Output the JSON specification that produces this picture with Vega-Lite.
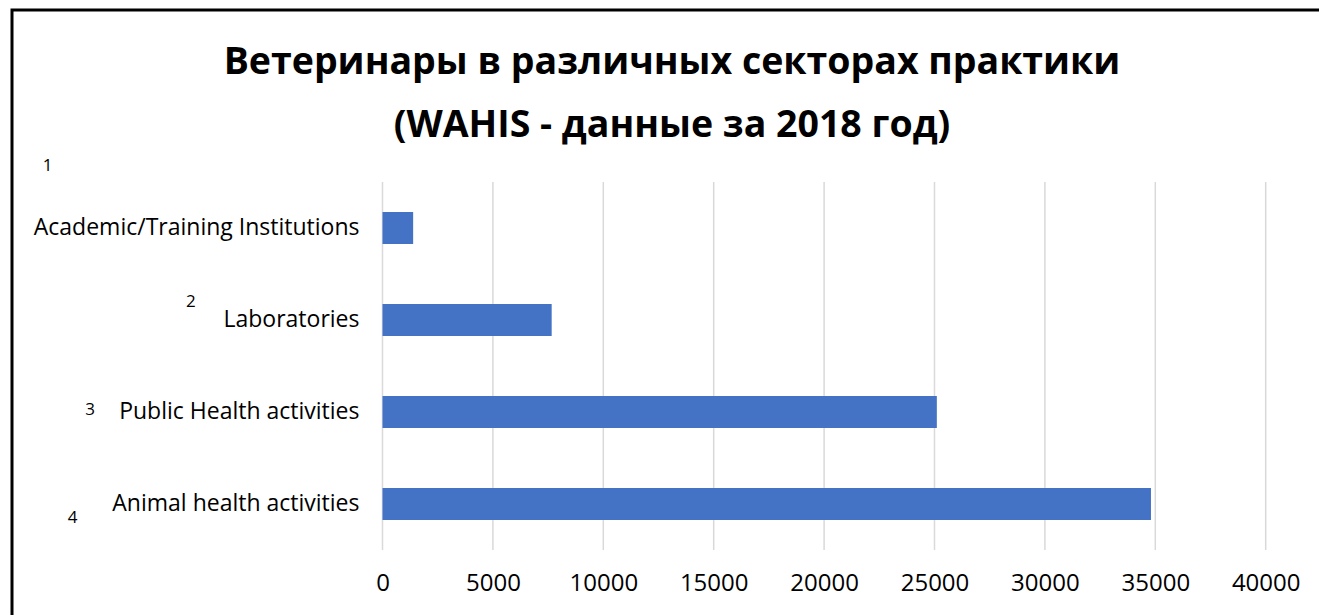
{
  "$schema": "https://vega.github.io/schema/vega-lite/v6.json",
  "autosize": "none",
  "padding": {"left": 12, "top": 10, "right": -8, "bottom": -8},
  "width": 1315,
  "height": 613,
  "background": "white",
  "config": {"view": {"stroke": "black", "strokeWidth": 3}, "font": "Open Sans"},
  "title": {
    "text": ["Ветеринары в различных секторах практики", "(WAHIS - данные за 2018 год)"],
    "fontSize": 37.5,
    "fontWeight": "bold",
    "font": "Open Sans",
    "color": "black",
    "anchor": "middle",
    "frame": "group",
    "baseline": "alphabetic",
    "offset": -164,
    "lineHeight": 63,
    "dx": 2.5
  },
  "datasets": {
    "sectors": [
      {"sector": "Academic/Training Institutions", "vets": 1388},
      {"sector": "Laboratories", "vets": 7662},
      {"sector": "Public Health activities", "vets": 25106},
      {"sector": "Animal health activities", "vets": 34804}
    ],
    "notes": [
      {"label": "1", "xpos": -15172, "ypos": 0.326},
      {"label": "2", "xpos": -8674, "ypos": 1.799},
      {"label": "3", "xpos": -13247, "ypos": 2.978},
      {"label": "4", "xpos": -14040, "ypos": 4.152}
    ],
    "grid": [
      {"tick": 0, "top": 0.5, "bottom": 4.5},
      {"tick": 5000, "top": 0.5, "bottom": 4.5},
      {"tick": 10000, "top": 0.5, "bottom": 4.5},
      {"tick": 15000, "top": 0.5, "bottom": 4.5},
      {"tick": 20000, "top": 0.5, "bottom": 4.5},
      {"tick": 25000, "top": 0.5, "bottom": 4.5},
      {"tick": 30000, "top": 0.5, "bottom": 4.5},
      {"tick": 35000, "top": 0.5, "bottom": 4.5},
      {"tick": 40000, "top": 0.5, "bottom": 4.5}
    ]
  },
  "layer": [
    {
      "layer": [
        {
          "data": {"name": "grid"},
          "mark": {"type": "rule", "color": "#d9d9d9", "strokeWidth": 1.5},
          "encoding": {
            "x": {
              "field": "tick",
              "type": "quantitative",
              "scale": {"domain": [0, 40000], "range": [370.5, 1253.7], "nice": false}
            },
            "y": {
              "field": "top",
              "type": "quantitative",
              "scale": {"domain": [0.5, 4.5], "range": [172, 540], "nice": false, "zero": false},
              "axis": null
            },
            "y2": {"field": "bottom"}
          }
        },
        {
          "data": {"name": "notes"},
          "mark": {"type": "text", "fontSize": 17, "color": "black"},
          "encoding": {
            "x": {
              "field": "xpos",
              "type": "quantitative",
              "scale": {"domain": [0, 40000], "range": [370.5, 1253.7], "nice": false}
            },
            "y": {
              "field": "ypos",
              "type": "quantitative",
              "scale": {"domain": [0.5, 4.5], "range": [172, 540], "nice": false, "zero": false},
              "axis": null
            },
            "text": {"field": "label"}
          }
        }
      ]
    },
    {
      "data": {"name": "sectors"},
      "mark": {"type": "bar", "color": "#4472C4"},
      "encoding": {
        "y": {
          "field": "sector",
          "type": "nominal",
          "sort": null,
          "scale": {"range": [172, 540], "paddingInner": 0.65, "paddingOuter": 0.325},
          "axis": {
            "title": null,
            "offset": -371,
            "domain": false,
            "ticks": false,
            "grid": false,
            "labelFontSize": 23,
            "labelPadding": 24,
            "labelColor": "black",
            "labelLimit": 0
          }
        },
        "x": {
          "field": "vets",
          "type": "quantitative",
          "scale": {"domain": [0, 40000], "range": [370.5, 1253.7], "nice": false},
          "axis": {
            "title": null,
            "values": [0, 5000, 10000, 15000, 20000, 25000, 30000, 35000, 40000],
            "format": "d",
            "domain": false,
            "ticks": false,
            "grid": false,
            "labelFlush": false,
            "offset": -73,
            "labelFontSize": 24,
            "labelPadding": 21,
            "labelColor": "black"
          }
        }
      }
    }
  ],
  "resolve": {"scale": {"y": "independent"}}
}
